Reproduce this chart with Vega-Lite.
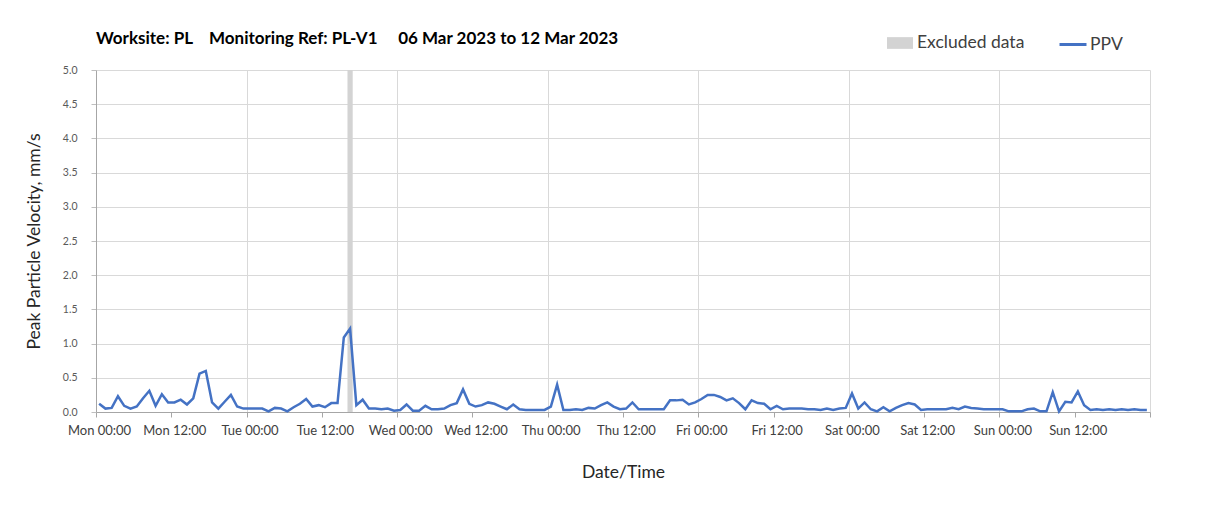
{
  "$schema": "https://vega.github.io/schema/vega-lite/v6.json",
  "autosize": "none",
  "width": 1054,
  "height": 342,
  "padding": {"left": 96, "top": 70, "right": 58, "bottom": 96},
  "background": "white",
  "title": {
    "text": "Worksite: PL\u00a0\u00a0\u00a0\u00a0Monitoring Ref: PL-V1\u00a0\u00a0\u00a0\u00a0\u00a006 Mar 2023 to 12 Mar 2023",
    "anchor": "start",
    "frame": "group",
    "font": "Lato",
    "fontSize": 17,
    "fontWeight": "bold",
    "color": "#000000",
    "offset": -18
  },
  "datasets": {
    "excl": [
      {"s": "2023-03-07T16:05:00Z", "e": "2023-03-07T16:55:00Z", "k": "Excluded data"}
    ],
    "ppv": [
      {"t": "2023-03-06T00:30:00Z", "v": 0.12, "k": "PPV"},
      {"t": "2023-03-06T01:30:00Z", "v": 0.05, "k": "PPV"},
      {"t": "2023-03-06T02:30:00Z", "v": 0.06, "k": "PPV"},
      {"t": "2023-03-06T03:30:00Z", "v": 0.23, "k": "PPV"},
      {"t": "2023-03-06T04:30:00Z", "v": 0.09, "k": "PPV"},
      {"t": "2023-03-06T05:30:00Z", "v": 0.05, "k": "PPV"},
      {"t": "2023-03-06T06:30:00Z", "v": 0.08, "k": "PPV"},
      {"t": "2023-03-06T07:30:00Z", "v": 0.20, "k": "PPV"},
      {"t": "2023-03-06T08:30:00Z", "v": 0.31, "k": "PPV"},
      {"t": "2023-03-06T09:30:00Z", "v": 0.09, "k": "PPV"},
      {"t": "2023-03-06T10:30:00Z", "v": 0.26, "k": "PPV"},
      {"t": "2023-03-06T11:30:00Z", "v": 0.14, "k": "PPV"},
      {"t": "2023-03-06T12:30:00Z", "v": 0.14, "k": "PPV"},
      {"t": "2023-03-06T13:30:00Z", "v": 0.18, "k": "PPV"},
      {"t": "2023-03-06T14:30:00Z", "v": 0.11, "k": "PPV"},
      {"t": "2023-03-06T15:30:00Z", "v": 0.20, "k": "PPV"},
      {"t": "2023-03-06T16:30:00Z", "v": 0.56, "k": "PPV"},
      {"t": "2023-03-06T17:30:00Z", "v": 0.60, "k": "PPV"},
      {"t": "2023-03-06T18:30:00Z", "v": 0.14, "k": "PPV"},
      {"t": "2023-03-06T19:30:00Z", "v": 0.05, "k": "PPV"},
      {"t": "2023-03-06T20:30:00Z", "v": 0.15, "k": "PPV"},
      {"t": "2023-03-06T21:30:00Z", "v": 0.25, "k": "PPV"},
      {"t": "2023-03-06T22:30:00Z", "v": 0.08, "k": "PPV"},
      {"t": "2023-03-06T23:30:00Z", "v": 0.05, "k": "PPV"},
      {"t": "2023-03-07T00:30:00Z", "v": 0.05, "k": "PPV"},
      {"t": "2023-03-07T01:30:00Z", "v": 0.05, "k": "PPV"},
      {"t": "2023-03-07T02:30:00Z", "v": 0.05, "k": "PPV"},
      {"t": "2023-03-07T03:30:00Z", "v": 0.01, "k": "PPV"},
      {"t": "2023-03-07T04:30:00Z", "v": 0.06, "k": "PPV"},
      {"t": "2023-03-07T05:30:00Z", "v": 0.05, "k": "PPV"},
      {"t": "2023-03-07T06:30:00Z", "v": 0.01, "k": "PPV"},
      {"t": "2023-03-07T07:30:00Z", "v": 0.07, "k": "PPV"},
      {"t": "2023-03-07T08:30:00Z", "v": 0.12, "k": "PPV"},
      {"t": "2023-03-07T09:30:00Z", "v": 0.19, "k": "PPV"},
      {"t": "2023-03-07T10:30:00Z", "v": 0.08, "k": "PPV"},
      {"t": "2023-03-07T11:30:00Z", "v": 0.10, "k": "PPV"},
      {"t": "2023-03-07T12:30:00Z", "v": 0.07, "k": "PPV"},
      {"t": "2023-03-07T13:30:00Z", "v": 0.13, "k": "PPV"},
      {"t": "2023-03-07T14:30:00Z", "v": 0.13, "k": "PPV"},
      {"t": "2023-03-07T15:30:00Z", "v": 1.09, "k": "PPV"},
      {"t": "2023-03-07T16:30:00Z", "v": 1.22, "k": "PPV"},
      {"t": "2023-03-07T17:30:00Z", "v": 0.10, "k": "PPV"},
      {"t": "2023-03-07T18:30:00Z", "v": 0.18, "k": "PPV"},
      {"t": "2023-03-07T19:30:00Z", "v": 0.05, "k": "PPV"},
      {"t": "2023-03-07T20:30:00Z", "v": 0.05, "k": "PPV"},
      {"t": "2023-03-07T21:30:00Z", "v": 0.04, "k": "PPV"},
      {"t": "2023-03-07T22:30:00Z", "v": 0.05, "k": "PPV"},
      {"t": "2023-03-07T23:30:00Z", "v": 0.02, "k": "PPV"},
      {"t": "2023-03-08T00:30:00Z", "v": 0.03, "k": "PPV"},
      {"t": "2023-03-08T01:30:00Z", "v": 0.11, "k": "PPV"},
      {"t": "2023-03-08T02:30:00Z", "v": 0.02, "k": "PPV"},
      {"t": "2023-03-08T03:30:00Z", "v": 0.02, "k": "PPV"},
      {"t": "2023-03-08T04:30:00Z", "v": 0.09, "k": "PPV"},
      {"t": "2023-03-08T05:30:00Z", "v": 0.04, "k": "PPV"},
      {"t": "2023-03-08T06:30:00Z", "v": 0.04, "k": "PPV"},
      {"t": "2023-03-08T07:30:00Z", "v": 0.05, "k": "PPV"},
      {"t": "2023-03-08T08:30:00Z", "v": 0.10, "k": "PPV"},
      {"t": "2023-03-08T09:30:00Z", "v": 0.13, "k": "PPV"},
      {"t": "2023-03-08T10:30:00Z", "v": 0.33, "k": "PPV"},
      {"t": "2023-03-08T11:30:00Z", "v": 0.12, "k": "PPV"},
      {"t": "2023-03-08T12:30:00Z", "v": 0.08, "k": "PPV"},
      {"t": "2023-03-08T13:30:00Z", "v": 0.10, "k": "PPV"},
      {"t": "2023-03-08T14:30:00Z", "v": 0.14, "k": "PPV"},
      {"t": "2023-03-08T15:30:00Z", "v": 0.12, "k": "PPV"},
      {"t": "2023-03-08T16:30:00Z", "v": 0.08, "k": "PPV"},
      {"t": "2023-03-08T17:30:00Z", "v": 0.04, "k": "PPV"},
      {"t": "2023-03-08T18:30:00Z", "v": 0.11, "k": "PPV"},
      {"t": "2023-03-08T19:30:00Z", "v": 0.04, "k": "PPV"},
      {"t": "2023-03-08T20:30:00Z", "v": 0.03, "k": "PPV"},
      {"t": "2023-03-08T21:30:00Z", "v": 0.03, "k": "PPV"},
      {"t": "2023-03-08T22:30:00Z", "v": 0.03, "k": "PPV"},
      {"t": "2023-03-08T23:30:00Z", "v": 0.03, "k": "PPV"},
      {"t": "2023-03-09T00:30:00Z", "v": 0.08, "k": "PPV"},
      {"t": "2023-03-09T01:30:00Z", "v": 0.40, "k": "PPV"},
      {"t": "2023-03-09T02:30:00Z", "v": 0.03, "k": "PPV"},
      {"t": "2023-03-09T03:30:00Z", "v": 0.03, "k": "PPV"},
      {"t": "2023-03-09T04:30:00Z", "v": 0.04, "k": "PPV"},
      {"t": "2023-03-09T05:30:00Z", "v": 0.03, "k": "PPV"},
      {"t": "2023-03-09T06:30:00Z", "v": 0.06, "k": "PPV"},
      {"t": "2023-03-09T07:30:00Z", "v": 0.05, "k": "PPV"},
      {"t": "2023-03-09T08:30:00Z", "v": 0.10, "k": "PPV"},
      {"t": "2023-03-09T09:30:00Z", "v": 0.14, "k": "PPV"},
      {"t": "2023-03-09T10:30:00Z", "v": 0.08, "k": "PPV"},
      {"t": "2023-03-09T11:30:00Z", "v": 0.04, "k": "PPV"},
      {"t": "2023-03-09T12:30:00Z", "v": 0.05, "k": "PPV"},
      {"t": "2023-03-09T13:30:00Z", "v": 0.14, "k": "PPV"},
      {"t": "2023-03-09T14:30:00Z", "v": 0.04, "k": "PPV"},
      {"t": "2023-03-09T15:30:00Z", "v": 0.04, "k": "PPV"},
      {"t": "2023-03-09T16:30:00Z", "v": 0.04, "k": "PPV"},
      {"t": "2023-03-09T17:30:00Z", "v": 0.04, "k": "PPV"},
      {"t": "2023-03-09T18:30:00Z", "v": 0.04, "k": "PPV"},
      {"t": "2023-03-09T19:30:00Z", "v": 0.17, "k": "PPV"},
      {"t": "2023-03-09T20:30:00Z", "v": 0.17, "k": "PPV"},
      {"t": "2023-03-09T21:30:00Z", "v": 0.18, "k": "PPV"},
      {"t": "2023-03-09T22:30:00Z", "v": 0.11, "k": "PPV"},
      {"t": "2023-03-09T23:30:00Z", "v": 0.14, "k": "PPV"},
      {"t": "2023-03-10T00:30:00Z", "v": 0.19, "k": "PPV"},
      {"t": "2023-03-10T01:30:00Z", "v": 0.25, "k": "PPV"},
      {"t": "2023-03-10T02:30:00Z", "v": 0.25, "k": "PPV"},
      {"t": "2023-03-10T03:30:00Z", "v": 0.22, "k": "PPV"},
      {"t": "2023-03-10T04:30:00Z", "v": 0.17, "k": "PPV"},
      {"t": "2023-03-10T05:30:00Z", "v": 0.20, "k": "PPV"},
      {"t": "2023-03-10T06:30:00Z", "v": 0.13, "k": "PPV"},
      {"t": "2023-03-10T07:30:00Z", "v": 0.04, "k": "PPV"},
      {"t": "2023-03-10T08:30:00Z", "v": 0.17, "k": "PPV"},
      {"t": "2023-03-10T09:30:00Z", "v": 0.13, "k": "PPV"},
      {"t": "2023-03-10T10:30:00Z", "v": 0.12, "k": "PPV"},
      {"t": "2023-03-10T11:30:00Z", "v": 0.04, "k": "PPV"},
      {"t": "2023-03-10T12:30:00Z", "v": 0.09, "k": "PPV"},
      {"t": "2023-03-10T13:30:00Z", "v": 0.04, "k": "PPV"},
      {"t": "2023-03-10T14:30:00Z", "v": 0.05, "k": "PPV"},
      {"t": "2023-03-10T15:30:00Z", "v": 0.05, "k": "PPV"},
      {"t": "2023-03-10T16:30:00Z", "v": 0.05, "k": "PPV"},
      {"t": "2023-03-10T17:30:00Z", "v": 0.04, "k": "PPV"},
      {"t": "2023-03-10T18:30:00Z", "v": 0.04, "k": "PPV"},
      {"t": "2023-03-10T19:30:00Z", "v": 0.03, "k": "PPV"},
      {"t": "2023-03-10T20:30:00Z", "v": 0.05, "k": "PPV"},
      {"t": "2023-03-10T21:30:00Z", "v": 0.03, "k": "PPV"},
      {"t": "2023-03-10T22:30:00Z", "v": 0.05, "k": "PPV"},
      {"t": "2023-03-10T23:30:00Z", "v": 0.06, "k": "PPV"},
      {"t": "2023-03-11T00:30:00Z", "v": 0.27, "k": "PPV"},
      {"t": "2023-03-11T01:30:00Z", "v": 0.05, "k": "PPV"},
      {"t": "2023-03-11T02:30:00Z", "v": 0.14, "k": "PPV"},
      {"t": "2023-03-11T03:30:00Z", "v": 0.04, "k": "PPV"},
      {"t": "2023-03-11T04:30:00Z", "v": 0.01, "k": "PPV"},
      {"t": "2023-03-11T05:30:00Z", "v": 0.07, "k": "PPV"},
      {"t": "2023-03-11T06:30:00Z", "v": 0.01, "k": "PPV"},
      {"t": "2023-03-11T07:30:00Z", "v": 0.06, "k": "PPV"},
      {"t": "2023-03-11T08:30:00Z", "v": 0.10, "k": "PPV"},
      {"t": "2023-03-11T09:30:00Z", "v": 0.13, "k": "PPV"},
      {"t": "2023-03-11T10:30:00Z", "v": 0.11, "k": "PPV"},
      {"t": "2023-03-11T11:30:00Z", "v": 0.03, "k": "PPV"},
      {"t": "2023-03-11T12:30:00Z", "v": 0.04, "k": "PPV"},
      {"t": "2023-03-11T13:30:00Z", "v": 0.04, "k": "PPV"},
      {"t": "2023-03-11T14:30:00Z", "v": 0.04, "k": "PPV"},
      {"t": "2023-03-11T15:30:00Z", "v": 0.04, "k": "PPV"},
      {"t": "2023-03-11T16:30:00Z", "v": 0.06, "k": "PPV"},
      {"t": "2023-03-11T17:30:00Z", "v": 0.04, "k": "PPV"},
      {"t": "2023-03-11T18:30:00Z", "v": 0.08, "k": "PPV"},
      {"t": "2023-03-11T19:30:00Z", "v": 0.06, "k": "PPV"},
      {"t": "2023-03-11T20:30:00Z", "v": 0.05, "k": "PPV"},
      {"t": "2023-03-11T21:30:00Z", "v": 0.04, "k": "PPV"},
      {"t": "2023-03-11T22:30:00Z", "v": 0.04, "k": "PPV"},
      {"t": "2023-03-11T23:30:00Z", "v": 0.04, "k": "PPV"},
      {"t": "2023-03-12T00:30:00Z", "v": 0.04, "k": "PPV"},
      {"t": "2023-03-12T01:30:00Z", "v": 0.01, "k": "PPV"},
      {"t": "2023-03-12T02:30:00Z", "v": 0.01, "k": "PPV"},
      {"t": "2023-03-12T03:30:00Z", "v": 0.01, "k": "PPV"},
      {"t": "2023-03-12T04:30:00Z", "v": 0.04, "k": "PPV"},
      {"t": "2023-03-12T05:30:00Z", "v": 0.05, "k": "PPV"},
      {"t": "2023-03-12T06:30:00Z", "v": 0.01, "k": "PPV"},
      {"t": "2023-03-12T07:30:00Z", "v": 0.01, "k": "PPV"},
      {"t": "2023-03-12T08:30:00Z", "v": 0.29, "k": "PPV"},
      {"t": "2023-03-12T09:30:00Z", "v": 0.01, "k": "PPV"},
      {"t": "2023-03-12T10:30:00Z", "v": 0.15, "k": "PPV"},
      {"t": "2023-03-12T11:30:00Z", "v": 0.14, "k": "PPV"},
      {"t": "2023-03-12T12:30:00Z", "v": 0.30, "k": "PPV"},
      {"t": "2023-03-12T13:30:00Z", "v": 0.10, "k": "PPV"},
      {"t": "2023-03-12T14:30:00Z", "v": 0.03, "k": "PPV"},
      {"t": "2023-03-12T15:30:00Z", "v": 0.04, "k": "PPV"},
      {"t": "2023-03-12T16:30:00Z", "v": 0.03, "k": "PPV"},
      {"t": "2023-03-12T17:30:00Z", "v": 0.04, "k": "PPV"},
      {"t": "2023-03-12T18:30:00Z", "v": 0.03, "k": "PPV"},
      {"t": "2023-03-12T19:30:00Z", "v": 0.04, "k": "PPV"},
      {"t": "2023-03-12T20:30:00Z", "v": 0.03, "k": "PPV"},
      {"t": "2023-03-12T21:30:00Z", "v": 0.04, "k": "PPV"},
      {"t": "2023-03-12T22:30:00Z", "v": 0.03, "k": "PPV"},
      {"t": "2023-03-12T23:30:00Z", "v": 0.03, "k": "PPV"}
    ]
  },
  "layer": [
    {
      "data": {"name": "excl"},
      "mark": {"type": "rect"},
      "encoding": {
        "x": {
          "field": "s",
          "type": "temporal",
          "scale": {
            "type": "utc",
            "domain": ["2023-03-06T00:00:00Z", "2023-03-13T00:00:00Z"],
            "nice": false
          },
          "axis": {
            "orient": "top",
            "title": null,
            "values": [
              {"year": 2023, "month": 3, "date": 7, "utc": true},
              {"year": 2023, "month": 3, "date": 8, "utc": true},
              {"year": 2023, "month": 3, "date": 9, "utc": true},
              {"year": 2023, "month": 3, "date": 10, "utc": true},
              {"year": 2023, "month": 3, "date": 11, "utc": true},
              {"year": 2023, "month": 3, "date": 12, "utc": true},
              {"year": 2023, "month": 3, "date": 13, "utc": true}
            ],
            "labels": false,
            "ticks": false,
            "domain": false,
            "grid": true,
            "gridColor": "#d9d9d9"
          }
        },
        "x2": {"field": "e"},
        "fill": {
          "field": "k",
          "type": "nominal",
          "scale": {"domain": ["Excluded data"], "range": ["#d3d3d3"]},
          "legend": {
            "orient": "none",
            "legendX": 791,
            "legendY": -40,
            "title": null,
            "padding": 0,
            "symbolType": "M-1,-0.45H1V0.45H-1Z",
            "symbolSize": 676,
            "symbolStrokeWidth": 0,
            "labelOffset": 4,
            "labelFont": "Lato",
            "labelFontSize": 17.5,
            "labelColor": "#404040"
          }
        }
      }
    },
    {
      "data": {"name": "ppv"},
      "mark": {"type": "line", "strokeWidth": 2.5},
      "encoding": {
        "x": {
          "field": "t",
          "type": "temporal",
          "axis": {
            "orient": "bottom",
            "title": "Date/Time",
            "values": [
              {"year": 2023, "month": 3, "date": 6, "hours": 0, "utc": true},
              {"year": 2023, "month": 3, "date": 6, "hours": 12, "utc": true},
              {"year": 2023, "month": 3, "date": 7, "hours": 0, "utc": true},
              {"year": 2023, "month": 3, "date": 7, "hours": 12, "utc": true},
              {"year": 2023, "month": 3, "date": 8, "hours": 0, "utc": true},
              {"year": 2023, "month": 3, "date": 8, "hours": 12, "utc": true},
              {"year": 2023, "month": 3, "date": 9, "hours": 0, "utc": true},
              {"year": 2023, "month": 3, "date": 9, "hours": 12, "utc": true},
              {"year": 2023, "month": 3, "date": 10, "hours": 0, "utc": true},
              {"year": 2023, "month": 3, "date": 10, "hours": 12, "utc": true},
              {"year": 2023, "month": 3, "date": 11, "hours": 0, "utc": true},
              {"year": 2023, "month": 3, "date": 11, "hours": 12, "utc": true},
              {"year": 2023, "month": 3, "date": 12, "hours": 0, "utc": true},
              {"year": 2023, "month": 3, "date": 12, "hours": 12, "utc": true},
              {"year": 2023, "month": 3, "date": 13, "hours": 0, "utc": true}
            ],
            "format": "%a %H:%M",
            "labelExpr": "datum.index >= 1 ? '' : datum.label",
            "labelFont": "Lato",
            "labelFontSize": 13,
            "labelColor": "#404040",
            "labelPadding": 7,
            "labelOffset": 3,
            "labelFlush": false,
            "labelOverlap": false,
            "tickSize": 5,
            "tickColor": "#a6a6a6",
            "domainColor": "#a6a6a6",
            "grid": false,
            "titleFont": "Lato",
            "titleFontSize": 17.5,
            "titleFontWeight": "normal",
            "titleColor": "#262626",
            "titlePadding": 26
          }
        },
        "y": {
          "field": "v",
          "type": "quantitative",
          "scale": {"domain": [0, 5], "nice": false},
          "axis": {
            "title": "Peak Particle Velocity, mm/s",
            "values": [0, 0.5, 1, 1.5, 2, 2.5, 3, 3.5, 4, 4.5, 5],
            "format": ".1f",
            "labelFont": "Lato",
            "labelFontSize": 10.5,
            "labelColor": "#595959",
            "labelPadding": 14,
            "tickSize": 5,
            "tickColor": "#bfbfbf",
            "domainColor": "#a6a6a6",
            "grid": true,
            "gridColor": "#d9d9d9",
            "titleFont": "Lato",
            "titleFontSize": 17.5,
            "titleFontWeight": "normal",
            "titleColor": "#262626",
            "titlePadding": 19
          }
        },
        "stroke": {
          "field": "k",
          "type": "nominal",
          "scale": {"domain": ["PPV"], "range": ["#4472c4"]},
          "legend": {
            "orient": "none",
            "legendX": 962,
            "legendY": -40.5,
            "title": null,
            "padding": 0,
            "symbolType": "stroke",
            "symbolSize": 729,
            "symbolStrokeWidth": 3,
            "labelOffset": 2,
            "labelFont": "Lato",
            "labelFontSize": 17.5,
            "labelColor": "#404040"
          }
        }
      }
    }
  ],
  "resolve": {"axis": {"x": "independent"}},
  "config": {
    "view": {"stroke": null},
    "font": "Lato"
  }
}
